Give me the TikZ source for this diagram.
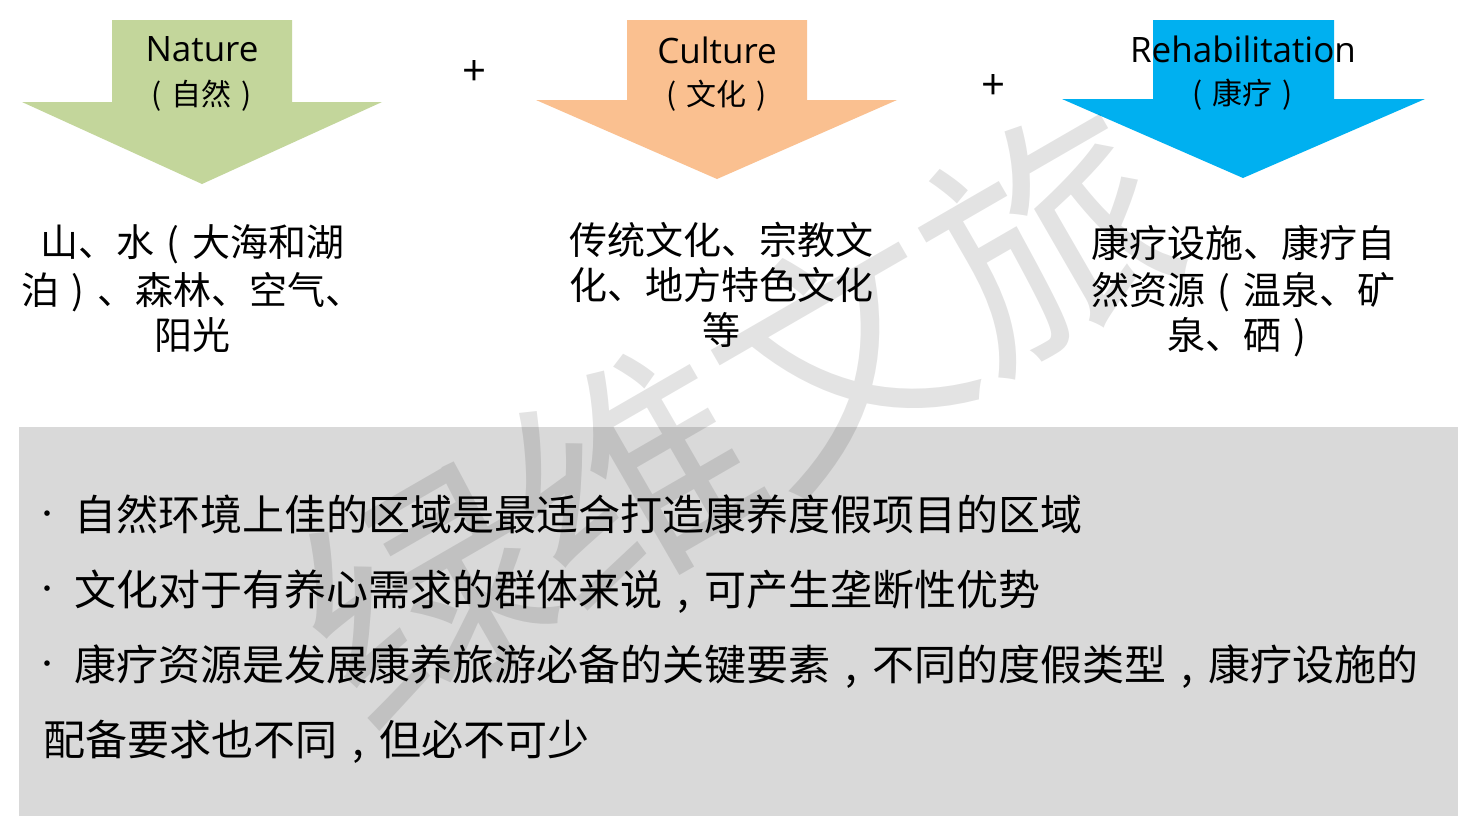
\documentclass[tikz,border=0pt]{standalone}
\usepackage{fontspec}
\setmainfont{Noto Sans CJK SC}
\newfontfamily\lat{Open Sans}
\definecolor{natgreen}{HTML}{C3D69B}
\definecolor{culorange}{HTML}{FAC090}
\definecolor{rehblue}{HTML}{00B0F0}
\definecolor{boxgray}{HTML}{D9D9D9}
\newcommand\flp{\makebox[1em]{(}}
\newcommand\frp{\makebox[1em]{)}}
\newcommand\fcm{\makebox[1em]{,}}
\begin{document}
\begin{tikzpicture}[x=1pt,y=-1pt,
  every node/.style={inner sep=0pt,outer sep=0pt},
  headlat/.style={anchor=base,font=\lat\fontsize{35}{40}\selectfont},
  headcjk/.style={anchor=base,font=\fontsize{30}{34}\selectfont},
  bodyline/.style={anchor=base,font=\fontsize{38}{46}\selectfont},
  bullettext/.style={anchor=base west,font=\fontsize{42}{50}\selectfont},
  bulletdot/.style={anchor=center,font=\fontsize{26}{30}\selectfont},
  plussign/.style={anchor=center,font=\lat\fontsize{42}{48}\selectfont},
  wmark/.style={font=\fontsize{240}{240}\selectfont,text=black,text opacity=0.11}]
\useasboundingbox (0,0) rectangle (1472,827);
\fill[white] (0,0) rectangle (1472,827);

% arrows
\fill[natgreen] (112,20) -- (292,20) -- (292,102) -- (382,102) -- (202,184) -- (22,102) -- (112,102) -- cycle;
\fill[culorange] (627,20) -- (807,20) -- (807,100) -- (897,100) -- (717,179) -- (536,100) -- (627,100) -- cycle;
\fill[rehblue] (1153,20) -- (1334,20) -- (1334,99) -- (1425,99) -- (1243,178) -- (1062,99) -- (1153,99) -- cycle;

% headers
\node[headlat] (nat1) at (202,61) {Nature};
\node[headcjk] (nat2) at (202,105) {\flp 自然\frp};
\node[headlat] (cul1) at (717,63) {Culture};
\node[headcjk] (cul2) at (717,105.5) {\flp 文化\frp};
\node[headlat] (reh1) at (1243,62) {Rehabilitation};
\node[headcjk] (reh2) at (1243,104.5) {\flp 康疗\frp};

% plus signs
\node[plussign] (plus1) at (475,73) {+};
\node[plussign] (plus2) at (993,87) {+};

% body texts
\node[bodyline] (n1) at (192,256.5) {山、水\flp 大海和湖};
\node[bodyline] (n2) at (192,304) {泊\frp 、森林、空气、};
\node[bodyline] (n3) at (192,349.5) {阳光};

\node[bodyline] (c1) at (721,254.5) {传统文化、宗教文};
\node[bodyline] (c2) at (721,299.5) {化、地方特色文化};
\node[bodyline] (c3) at (721,344.5) {等};

\node[bodyline] (r1) at (1243,257.5) {康疗设施、康疗自};
\node[bodyline] (r2) at (1243,304) {然资源\flp 温泉、矿};
\node[bodyline] (r3) at (1243,349.5) {泉、硒\frp};

% gray box
\fill[boxgray] (19,427) rectangle (1458,816);

\node[bulletdot] (b1d) at (47,517) {·};
\node[bullettext] (b1) at (74,530) {自然环境上佳的区域是最适合打造康养度假项目的区域};
\node[bulletdot] (b2d) at (47,592) {·};
\node[bullettext] (b2) at (74,605) {文化对于有养心需求的群体来说\fcm 可产生垄断性优势};
\node[bulletdot] (b3d) at (47,667) {·};
\node[bullettext] (b3) at (74,680) {康疗资源是发展康养旅游必备的关键要素\fcm 不同的度假类型\fcm 康疗设施的};
\node[bullettext] (b4) at (43,755) {配备要求也不同\fcm 但必不可少};

% watermark
\node[wmark,rotate=30] (wm) at (735,415) {绿维文旅};
\end{tikzpicture}
\end{document}
